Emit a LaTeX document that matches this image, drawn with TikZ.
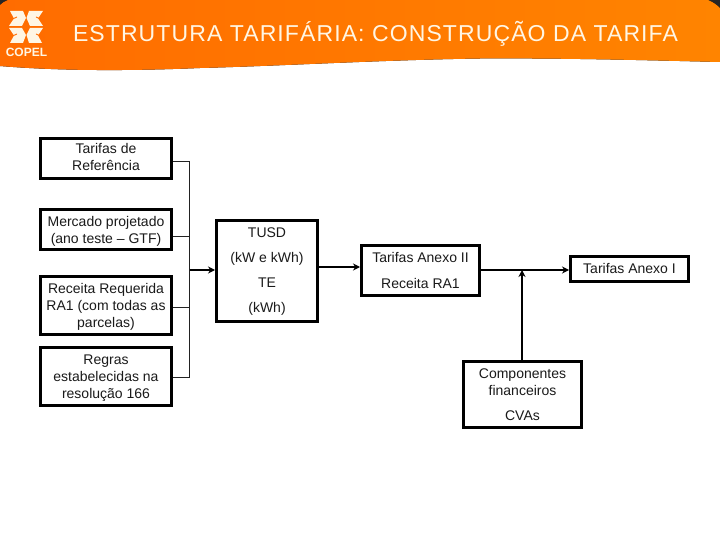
\documentclass[tikz,border=0pt]{standalone}
\usepackage{fontspec}
\setmainfont{Liberation Sans}
\usetikzlibrary{arrows.meta,calc}
\definecolor{hdrL}{HTML}{FF6C00}
\definecolor{hdrR}{HTML}{FF8400}
\definecolor{hdrText}{HTML}{FFF6E4}
\definecolor{inkc}{HTML}{1A1A1A}
\definecolor{wirec}{HTML}{222222}
\tikzset{
  x=1pt,y=-1pt,
  flow/.style={rectangle,draw=black,line width=3pt,fill=white,inner sep=0pt,align=center,font=\fontsize{14}{17}\selectfont,text=inkc,anchor=north west},
  thin wire/.style={draw=wirec,line width=1pt},
  heavy wire/.style={draw=black,line width=2.2pt,-{Stealth[length=7pt,width=7pt]}},
}
% name, x, y, width, height, text, padding above, padding below
\newcommand{\flowbox}[8]{\node[flow,minimum width=#4 pt-3pt,minimum height=#5 pt-3pt] (#1) at (#2,#3) {\parbox{\dimexpr#4pt-8pt\relax}{\centering\vspace*{#7}#6\par\vspace*{#8}}};}
\begin{document}
\begin{tikzpicture}
\useasboundingbox (0,0) rectangle (720,540);
\fill[white] (0,0) rectangle (720,540);
% header
\fill[black!85] (0,0) rectangle (720,12);
\fill[left color=hdrL,right color=hdrR]
  (0,5) .. controls (2,3) and (5,1) .. (8,0) -- (708,0)
  .. controls (713,2) and (717,5) .. (720,8)
  -- (720,62) .. controls (640,60) and (560,58) .. (480,58.5)
  .. controls (380,60) and (280,66) .. (200,68)
  .. controls (130,71) and (60,71) .. (0,66) -- cycle;
% logo
\fill[hdrText]
  (10,11)--(23,11)--(26,18)--(22,26)--(9,26)--(14,18.5)--cycle
  (29,11)--(43,11)--(38,18.5)--(43,26)--(30,26)--(26.5,18)--cycle
  (9,28)--(22,28)--(26,35)--(23,43)--(10,43)--(14,35.5)--cycle
  (30,28)--(43,28)--(38,35.5)--(42,43)--(29,43)--(26.5,35)--cycle;
\draw[hdrL,line width=.9pt]
  (8,21) -- (17,17) (45,21) -- (36,17)
  (8,38) -- (17,34) (45,38) -- (36,34);
\node[text=hdrText,font=\fontsize{12}{12}\selectfont\bfseries,inner sep=0pt] (logotext) at (26.5,52.5) {COPEL};
\node[text=hdrText,font=\fontsize{23}{23}\selectfont,inner sep=0pt] (title) at (375.5,33.5) {\addfontfeature{LetterSpace=4.8}ESTRUTURA TARIFÁRIA: CONSTRUÇÃO DA TARIFA};
% boxes
\flowbox{ref}{39}{137}{134}{43}{Tarifas de\\Referência}{0pt}{3pt}
\flowbox{mer}{39}{208}{134}{43}{Mercado projetado\\(ano teste – GTF)}{3pt}{0pt}
\flowbox{rec}{39}{275}{134}{61}{Receita Requerida\\RA1 (com todas as\\parcelas)}{3pt}{0pt}
\flowbox{reg}{39}{346}{134}{61}{Regras\\estabelecidas na\\resolução 166}{4pt}{0pt}
\flowbox{tusd}{215}{219}{104}{104}{TUSD\\[8pt](kW e kWh)\\[8pt]TE\\[8pt](kWh)}{2pt}{0pt}
\flowbox{anx}{360}{244}{121}{53}{Tarifas Anexo II\\[9pt]Receita RA1}{0pt}{0pt}
\flowbox{ani}{569}{255}{121}{28}{Tarifas Anexo I}{0pt}{2pt}
\flowbox{cmp}{462}{360}{121}{69}{Componentes\\financeiros\\[8pt]CVAs}{0pt}{0pt}
% junctions
\coordinate (busA) at (189.5,162);
\coordinate (busB) at (189.5,236);
\coordinate (busC) at (189.5,307);
\coordinate (busD) at (189.5,377);
\coordinate (busM) at (189.5,270);
\coordinate (tout) at (318,267);
\coordinate (aout) at (480,270);
\coordinate (cin) at (522,270);
% connectors
\draw[thin wire] (ref.east |- busA) -- (busA) -- (busD) -- (reg.east |- busD);
\draw[thin wire] (mer.east |- busB) -- (busB);
\draw[thin wire] (rec.east |- busC) -- (busC);
\draw[heavy wire] (busM) -- (tusd.west |- busM);
\draw[heavy wire] (tusd.east |- tout) -- (anx.west |- tout);
\draw[heavy wire] (anx.east |- aout) -- (ani.west |- aout);
\draw[heavy wire] (cmp.north -| cin) -- (cin);
\end{tikzpicture}
\end{document}
